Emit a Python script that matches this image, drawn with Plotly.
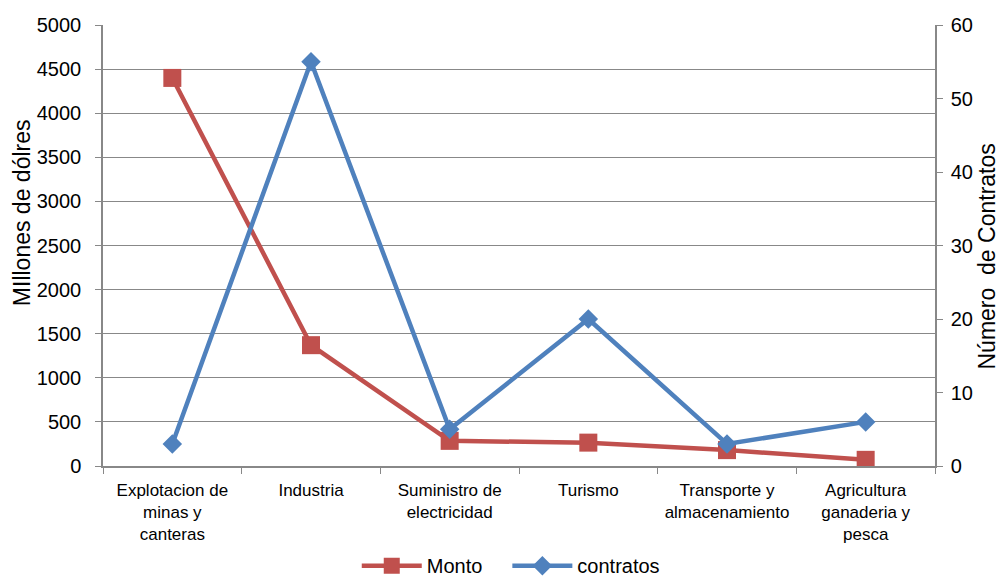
import plotly.graph_objects as go

categories = ["Explotacion de<br>minas y<br>canteras", "Industria", "Suministro de<br>electricidad",
              "Turismo", "Transporte y<br>almacenamiento", "Agricultura<br>ganaderia y<br>pesca"]
monto = [4400, 1370, 285, 265, 180, 70]
contratos = [3, 55, 5, 20, 3, 6]
left_ticks = [0, 500, 1000, 1500, 2000, 2500, 3000, 3500, 4000, 4500, 5000]
right_ticks = [0, 10, 20, 30, 40, 50, 60]
left_title = "MIllones de dólres"
right_title = "Número  de Contratos"

RED = "#C0504D"
BLUE = "#4F81BD"
GRID = "#888888"
FONT = "Liberation Sans, Arial, sans-serif"

fig = go.Figure()
fig.add_trace(go.Scatter(
    x=categories, y=monto, name="Monto", mode="lines+markers",
    line=dict(color=RED, width=4.5),
    marker=dict(symbol="square", size=18, color=RED),
    yaxis="y", legend="legend"))
fig.add_trace(go.Scatter(
    x=categories, y=contratos, name="contratos", mode="lines+markers",
    line=dict(color=BLUE, width=4.5),
    marker=dict(symbol="diamond", size=15, color=BLUE),
    yaxis="y2", legend="legend2"))

leg_common = dict(orientation="h", xanchor="left", y=-0.226, yanchor="middle",
                  font=dict(size=20), itemwidth=60, bgcolor="rgba(0,0,0,0)")

fig.update_layout(
    width=997, height=568,
    margin=dict(l=95, r=70, t=17, b=110, autoexpand=False),
    paper_bgcolor="white", plot_bgcolor="white",
    font=dict(family=FONT, color="black"),
    showlegend=True,
    legend=dict(x=0.305, **leg_common),
    legend2=dict(x=0.486, **leg_common),
    xaxis=dict(
        type="category", showgrid=False, showline=True, linecolor=GRID, linewidth=1.5,
        ticks="outside", tickson="boundaries", ticklen=6, tickcolor=GRID,
        tickfont=dict(size=17), range=[-0.5, 5.5], automargin=False,
        ticklabelstandoff=8),
    yaxis=dict(
        range=[0, 5000], tickvals=left_ticks, showgrid=True, gridcolor=GRID, gridwidth=1,
        showline=True, linecolor=GRID, linewidth=1.5, ticks="outside", ticklen=6,
        tickcolor=GRID, tickfont=dict(size=20), zeroline=False, automargin=False,
        ticklabelstandoff=10),
    yaxis2=dict(
        range=[0, 60], tickvals=right_ticks, overlaying="y", side="right", showgrid=False,
        showline=True, linecolor=GRID, linewidth=1.5, ticks="outside", ticklen=6,
        tickcolor=GRID, tickfont=dict(size=20), zeroline=False, automargin=False,
        ticklabelstandoff=4),
    annotations=[
        dict(text=left_title, xref="paper", yref="paper", x=-0.097, y=0.574,
             textangle=-90, showarrow=False, font=dict(size=23),
             xanchor="center", yanchor="middle"),
        dict(text=right_title, xref="paper", yref="paper", x=1.063, y=0.476,
             textangle=-90, showarrow=False, font=dict(size=23),
             xanchor="center", yanchor="middle"),
    ],
)

fig.write_html("out.html")
